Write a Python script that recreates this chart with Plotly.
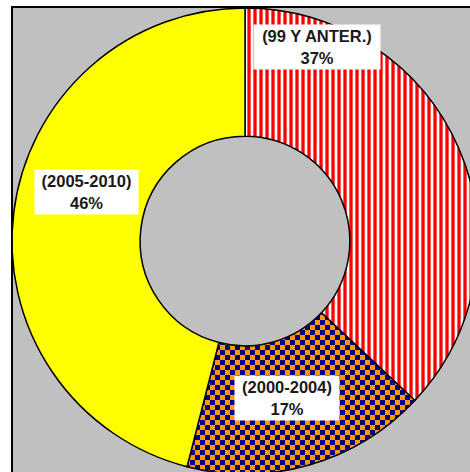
import plotly.graph_objects as go

# Share of items by period
periods = ["(99 Y ANTER.)", "(2000-2004)", "(2005-2010)"]
shares = [37, 17, 46]

# Fill styles for each slice
fill_colors = ["#FF0000", "#000080", "#FFFF00"]
pattern_shapes = ["|", "+", ""]
pattern_bg = ["#FFFFFF", "#FF9900", "#FFFF00"]

# Label box centres in pixels (x from left, y from top)
label_px = [(317, 47), (287, 398), (86.5, 192)]
label_widths = [120, 98, 97]

W, H = 490, 490
cx, cy, r_out = 245, 241, 233

fig = go.Figure()
fig.add_trace(go.Pie(
    labels=periods,
    values=shares,
    sort=False,
    direction="clockwise",
    rotation=0,
    hole=0.45,
    textinfo="none",
    hoverinfo="skip",
    showlegend=False,
    marker=dict(
        colors=fill_colors,
        line=dict(color="#000000", width=1.5),
        pattern=dict(
            shape=pattern_shapes,
            fgcolor=fill_colors,
            bgcolor=pattern_bg,
            size=6,
            solidity=0.55,
        ),
    ),
    domain=dict(
        x=[(cx - r_out) / W, (cx + r_out) / W],
        y=[1 - (cy + r_out) / H, 1 - (cy - r_out) / H],
    ),
))

total = sum(shares)
annotations = []
for name, val, (px, py), w in zip(periods, shares, label_px, label_widths):
    pct = round(100 * val / total)
    annotations.append(dict(
        x=px / W, y=1 - py / H, xref="paper", yref="paper",
        xanchor="center", yanchor="middle",
        text=f"<b>{name}<br>{pct}%</b>",
        showarrow=False,
        font=dict(family="Liberation Sans, Arial, sans-serif", size=16.5, color="#1A1A1A"),
        bgcolor="#FFFFFF",
        borderpad=3,
        borderwidth=1,
        bordercolor="rgba(0,0,0,0)",
        width=w,
        height=38,
        align="center",
    ))

fig.update_layout(
    width=W, height=H,
    autosize=False,
    margin=dict(l=0, r=0, t=0, b=0),
    paper_bgcolor="#FFFFFF",
    shapes=[dict(
        type="rect", xref="paper", yref="paper", layer="below",
        x0=12 / W, x1=1.05, y0=-0.05, y1=1 - 7 / H,
        fillcolor="#C0C0C0",
        line=dict(color="#000000", width=2),
    )],
    annotations=annotations,
)

# Turn the middle slice's fill into a navy/orange checkerboard
post_script = """
document.body.style.margin = '0';
document.body.style.overflow = 'hidden';
var gd = document.getElementById('{plot_id}');
var paths = gd.querySelectorAll('.pielayer g.slice path.surface');
if (paths.length > 1) {
  var st = paths[1].getAttribute('style') || '';
  var m = st.match(/#([^"')]+)["']?\\)/);
  if (m) {
    var pat = document.getElementById(m[1]);
    if (pat) {
      var ns = 'http://www.w3.org/2000/svg';
      while (pat.firstChild) { pat.removeChild(pat.firstChild); }
      pat.setAttribute('width', 10);
      pat.setAttribute('height', 10);
      pat.setAttribute('patternUnits', 'userSpaceOnUse');
      var cells = [[0, 0, 10, 10, '#FF9900'], [0, 0, 5, 5, '#000080'], [5, 5, 5, 5, '#000080']];
      cells.forEach(function (c) {
        var r = document.createElementNS(ns, 'rect');
        r.setAttribute('x', c[0]); r.setAttribute('y', c[1]);
        r.setAttribute('width', c[2]); r.setAttribute('height', c[3]);
        r.setAttribute('fill', c[4]);
        pat.appendChild(r);
      });
    }
  }
}
"""

fig.write_html("out.html", post_script=post_script)
